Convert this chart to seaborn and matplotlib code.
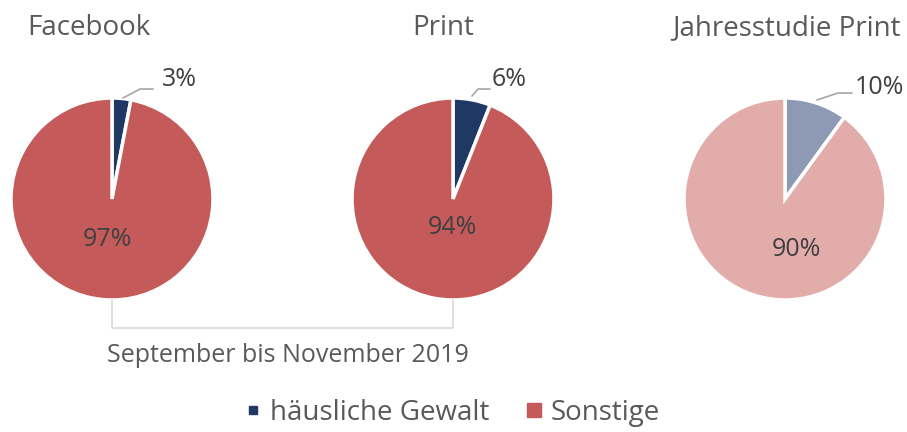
import matplotlib
matplotlib.use("Agg")
import matplotlib.pyplot as plt
from matplotlib.lines import Line2D
import seaborn as sns

# Data
titles = ["Facebook", "Print", "Jahresstudie Print"]
categories = ["häusliche Gewalt", "Sonstige"]
gewalt = [3, 6, 10]
sonstige = [97, 94, 90]
period_label = "September bis November 2019"

sns.set_theme(style="white")
plt.rcParams["font.family"] = ["Open Sans", "DejaVu Sans"]

W, H = 907, 432
fig = plt.figure(figsize=(W / 100, H / 100), dpi=100)
ax = fig.add_axes([0, 0, 1, 1])

text_col = "#595959"
num_col = "#404040"
line_col = "#A6A6A6"
dark = ["#1F3864", "#C55A5A"]
light = ["#8E9AB4", "#E2ACAB"]

# layout in pixel space (y measured upward)
centers = [(112, 233), (453, 233), (785, 233)]
radius = 101
title_x = [89, 443, 786]
inner_off = [(-5, -40), (-1, -28), (11, -50)]
leader = [
    [(123, 334), (140, 343), (153, 343)],
    [(472, 336), (478, 343), (490, 343)],
    [(817, 332), (838, 339), (852, 339)],
]
outer_xy = [(162, 352), (492, 352), (855, 345)]

for i in range(3):
    cols = light if i == 2 else dark
    ax.pie([gewalt[i], sonstige[i]], colors=cols, startangle=90,
           counterclock=False, center=centers[i], radius=radius,
           wedgeprops=dict(edgecolor="white", linewidth=2.5), frame=True)
    cx, cy = centers[i]
    ax.text(cx + inner_off[i][0], cy + inner_off[i][1], f"{sonstige[i]}%",
            ha="center", va="center", fontsize=18, color=num_col)
    xs, ys = zip(*leader[i])
    ax.plot(xs, ys, color=line_col, lw=1.2)
    ax.text(outer_xy[i][0], outer_xy[i][1], f"{gewalt[i]}%",
            ha="left", va="center", fontsize=18, color=num_col)
    ax.text(title_x[i], 404, titles[i], ha="center", va="center",
            fontsize=20, color=text_col)

# bracket joining the first two charts
x0, x1 = centers[0][0], centers[1][0]
ax.plot([x0, x0, x1, x1], [132, 104, 104, 132], color="#D9D9D9", lw=1.2,
        solid_joinstyle="round")
ax.text(288, 77, period_label, ha="center", va="center",
        fontsize=18, color=text_col)

handles = [
    Line2D([], [], marker="s", ls="", color=dark[0], markersize=6),
    Line2D([], [], marker="s", ls="", color=dark[1], markersize=10),
]
ax.legend(handles, categories, loc="center", bbox_to_anchor=(451 / W, 19 / H),
          ncol=2, frameon=False, fontsize=20, labelcolor=text_col,
          handletextpad=0.2, columnspacing=1.2, handlelength=0.8,
          borderpad=0, borderaxespad=0)

ax.set_xlim(0, W)
ax.set_ylim(0, H)
ax.set_aspect("equal")
ax.axis("off")

fig.savefig("out.png", dpi=100)
